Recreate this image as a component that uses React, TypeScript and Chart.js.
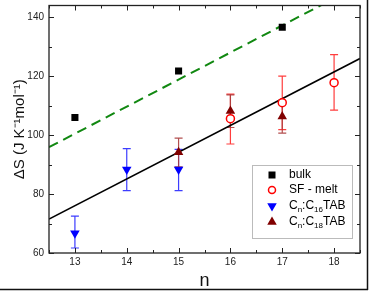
import React, { useEffect, useRef } from "react";
import { Chart, registerables } from "chart.js";

Chart.register(...registerables);

// ---------- data ----------
const xTicks = [13, 14, 15, 16, 17, 18];
const yTicks = [60, 80, 100, 120, 140];

const bulkN = [13, 15, 17];
const bulkS = [106, 121.8, 136.6];

const sfN = [16, 17, 18];
const sfS = [105.6, 111, 117.8];
const sfLo = [97, 101.9, 108.5];
const sfHi = [113.9, 120, 127.3];

const c16N = [13, 14, 15];
const c16S = [66.7, 88.3, 88.3];
const c16Lo = [61.7, 81.2, 81.2];
const c16Hi = [72.5, 95.4, 95.2];

const c18N = [15, 16, 17];
const c18S = [94.2, 108.2, 106.3];
const c18Lo = [89.2, 102.6, 100.7];
const c18Hi = [99, 113.7, 111.5];

const fitN = [12.5, 18.5];
const fitSolid = [71.5, 126];
const fitDashed = [95.9, 151];

const FONT = "'Liberation Sans', Arial, sans-serif";

const pts = (xs: number[], ys: number[]) => xs.map((x, i) => ({ x, y: ys[i] }));

const errorBarPlugin = {
  id: "errorBars",
  beforeDatasetsDraw(chart: any) {
    const ctx = chart.ctx;
    const xs = chart.scales.x;
    const ys = chart.scales.y;
    chart.data.datasets.forEach((ds: any) => {
      if (!ds.errLo) return;
      ctx.save();
      ctx.strokeStyle = ds.errColor;
      ctx.lineWidth = 1.2;
      ds.data.forEach((p: any, i: number) => {
        const px = xs.getPixelForValue(p.x);
        const lo = ys.getPixelForValue(ds.errLo[i]);
        const hi = ys.getPixelForValue(ds.errHi[i]);
        ctx.beginPath();
        ctx.moveTo(px, lo);
        ctx.lineTo(px, hi);
        ctx.moveTo(px - 4, lo);
        ctx.lineTo(px + 4, lo);
        ctx.moveTo(px - 4, hi);
        ctx.lineTo(px + 4, hi);
        ctx.stroke();
      });
      ctx.restore();
    });
  },
};

const framePlugin = {
  id: "frame",
  afterDraw(chart: any) {
    const ctx = chart.ctx;
    const { left, right, top, bottom } = chart.chartArea;
    const xs = chart.scales.x;
    const ys = chart.scales.y;
    ctx.save();
    ctx.strokeStyle = "#222";
    ctx.lineWidth = 1.3;
    ctx.strokeRect(left, top, right - left, bottom - top);
    ctx.lineWidth = 1;
    ctx.beginPath();
    for (let v = 12.5; v <= 18.5; v += 0.5) {
      const px = Math.round(xs.getPixelForValue(v)) + 0.5;
      const len = Number.isInteger(v) ? 5 : 3;
      ctx.moveTo(px, bottom);
      ctx.lineTo(px, bottom - len);
      ctx.moveTo(px, top);
      ctx.lineTo(px, top + len);
    }
    for (let v = 60; v <= 144; v += 10) {
      const py = Math.round(ys.getPixelForValue(v)) + 0.5;
      const len = v % 20 === 0 ? 5 : 3;
      ctx.moveTo(left, py);
      ctx.lineTo(left + len, py);
      ctx.moveTo(right, py);
      ctx.lineTo(right - len, py);
    }
    ctx.stroke();

    // outer image border (right & bottom)
    ctx.strokeStyle = "#111";
    ctx.lineWidth = 1.5;
    ctx.beginPath();
    ctx.moveTo(367.5, 0);
    ctx.lineTo(367.5, 290);
    ctx.moveTo(0, 289.5);
    ctx.lineTo(368, 289.5);
    ctx.stroke();
    ctx.restore();
  },
};

function drawTri(ctx: any, x: number, y: number, r: number, down: boolean) {
  const s = down ? -1 : 1;
  ctx.beginPath();
  ctx.moveTo(x, y - s * r);
  ctx.lineTo(x + r * 0.866, y + s * r * 0.5);
  ctx.lineTo(x - r * 0.866, y + s * r * 0.5);
  ctx.closePath();
  ctx.fill();
}

const legendPlugin = {
  id: "customLegend",
  afterDraw(chart: any) {
    const ctx = chart.ctx;
    const { right, bottom } = chart.chartArea;
    const bx = right - 108;
    const by = bottom - 88;
    const bw = 100;
    const bh = 73;
    ctx.save();
    ctx.fillStyle = "#fff";
    ctx.fillRect(bx, by, bw, bh);
    ctx.strokeStyle = "#777";
    ctx.lineWidth = 1;
    ctx.setLineDash([1, 1]);
    ctx.strokeRect(bx + 0.5, by + 0.5, bw, bh);
    ctx.setLineDash([]);

    const mx = bx + 20;
    const tx = bx + 37;
    const rows = [by + 10, by + 25, by + 41, by + 57];

    ctx.fillStyle = "#000";
    ctx.fillRect(mx - 3.5, rows[0] - 3.5, 7, 7);
    ctx.strokeStyle = "#ff0000";
    ctx.lineWidth = 1.5;
    ctx.beginPath();
    ctx.arc(mx, rows[1], 3.5, 0, Math.PI * 2);
    ctx.stroke();
    ctx.fillStyle = "#0000ff";
    drawTri(ctx, mx, rows[2], 5.5, true);
    ctx.fillStyle = "#800000";
    drawTri(ctx, mx, rows[3], 5.5, false);

    ctx.fillStyle = "#000";
    ctx.textBaseline = "middle";
    ctx.textAlign = "left";
    const big = `12px ${FONT}`;
    const small = `8px ${FONT}`;
    ctx.font = big;
    ctx.fillText("bulk", tx, rows[0]);
    ctx.fillText("SF - melt", tx, rows[1]);

    const drawSub = (y: number, sub: string) => {
      let x = tx;
      const parts: [string, boolean][] = [
        ["C", false],
        ["n", true],
        [":C", false],
        [sub, true],
        ["TAB", false],
      ];
      parts.forEach(([t, isSub]) => {
        ctx.font = isSub ? small : big;
        ctx.fillText(t, x, isSub ? y + 4 : y);
        x += ctx.measureText(t).width;
      });
    };
    drawSub(rows[2], "16");
    drawSub(rows[3], "18");
    ctx.restore();
  },
};

export default function App() {
  const ref = useRef<HTMLCanvasElement | null>(null);

  useEffect(() => {
    if (!ref.current) return;
    const chart = new Chart(ref.current, {
      type: "scatter",
      data: {
        datasets: [
          {
            label: "bulk",
            data: pts(bulkN, bulkS),
            pointStyle: "rect",
            pointRadius: 5,
            backgroundColor: "#000",
            borderColor: "#000",
            borderWidth: 0,
            order: 1,
          },
          {
            label: "SF - melt",
            data: pts(sfN, sfS),
            pointStyle: "circle",
            pointRadius: 4,
            backgroundColor: "#fff",
            borderColor: "#ff0000",
            borderWidth: 1.5,
            errLo: sfLo,
            errHi: sfHi,
            errColor: "rgba(255,40,40,0.9)",
            order: 1,
          } as any,
          {
            label: "Cn:C16TAB",
            data: pts(c16N, c16S),
            pointStyle: "triangle",
            pointRotation: 180,
            pointRadius: 5.5,
            backgroundColor: "#0000ff",
            borderColor: "#0000ff",
            borderWidth: 0,
            errLo: c16Lo,
            errHi: c16Hi,
            errColor: "rgba(40,40,255,0.9)",
            order: 1,
          } as any,
          {
            label: "Cn:C18TAB",
            data: pts(c18N, c18S),
            pointStyle: "triangle",
            pointRadius: 5.5,
            backgroundColor: "#800000",
            borderColor: "#800000",
            borderWidth: 0,
            errLo: c18Lo,
            errHi: c18Hi,
            errColor: "rgba(170,60,60,0.9)",
            order: 1,
          } as any,
          {
            label: "fit",
            data: pts(fitN, fitSolid),
            showLine: true,
            pointRadius: 0,
            borderColor: "#000",
            borderWidth: 1.6,
            order: 5,
          },
          {
            label: "bulk fit",
            data: pts(fitN, fitDashed),
            showLine: true,
            pointRadius: 0,
            borderColor: "#118811",
            borderWidth: 2,
            borderDash: [10, 6],
            order: 5,
          },
        ],
      },
      options: {
        animation: false,
        responsive: false,
        devicePixelRatio: 1,
        layout: { padding: { top: 4, right: 10, bottom: 0, left: 0 } },
        plugins: {
          legend: { display: false },
          tooltip: { enabled: false },
        },
        scales: {
          x: {
            type: "linear",
            min: 12.5,
            max: 18.5,
            afterBuildTicks: (s: any) => {
              s.ticks = xTicks.map((v) => ({ value: v }));
            },
            afterFit: (s: any) => {
              s.height = 38;
              s.paddingLeft = 0;
              s.paddingRight = 0;
              s.paddingTop = 0;
              s.paddingBottom = 0;
            },
            grid: { display: false, drawTicks: false },
            border: { display: false },
            ticks: {
              font: { family: FONT, size: 10 },
              color: "#222",
              padding: 3,
            },
            title: {
              display: true,
              text: "n",
              font: { family: FONT, size: 18, lineHeight: 1 },
              color: "#111",
              padding: { top: 0, bottom: 1 },
            },
          },
          y: {
            type: "linear",
            min: 60,
            max: 144,
            afterBuildTicks: (s: any) => {
              s.ticks = yTicks.map((v) => ({ value: v }));
            },
            afterFit: (s: any) => {
              s.width = 49;
              s.paddingLeft = 0;
              s.paddingRight = 0;
              s.paddingTop = 0;
              s.paddingBottom = 0;
            },
            grid: { display: false, drawTicks: false },
            border: { display: false },
            ticks: {
              font: { family: FONT, size: 10 },
              color: "#222",
              padding: 5,
            },
            title: {
              display: true,
              text: "ΔS (J K⁻¹mol⁻¹)",
              font: { family: FONT, size: 15 },
              color: "#111",
              padding: { top: 11, bottom: 0 },
            },
          },
        },
      } as any,
      plugins: [errorBarPlugin, framePlugin, legendPlugin],
    });
    return () => chart.destroy();
  }, []);

  return (
    <div style={{ position: "absolute", left: 0, top: 0, width: 370, height: 291, background: "#fff" }}>
      <canvas ref={ref} width={370} height={291} style={{ display: "block" }} />
    </div>
  );
}
